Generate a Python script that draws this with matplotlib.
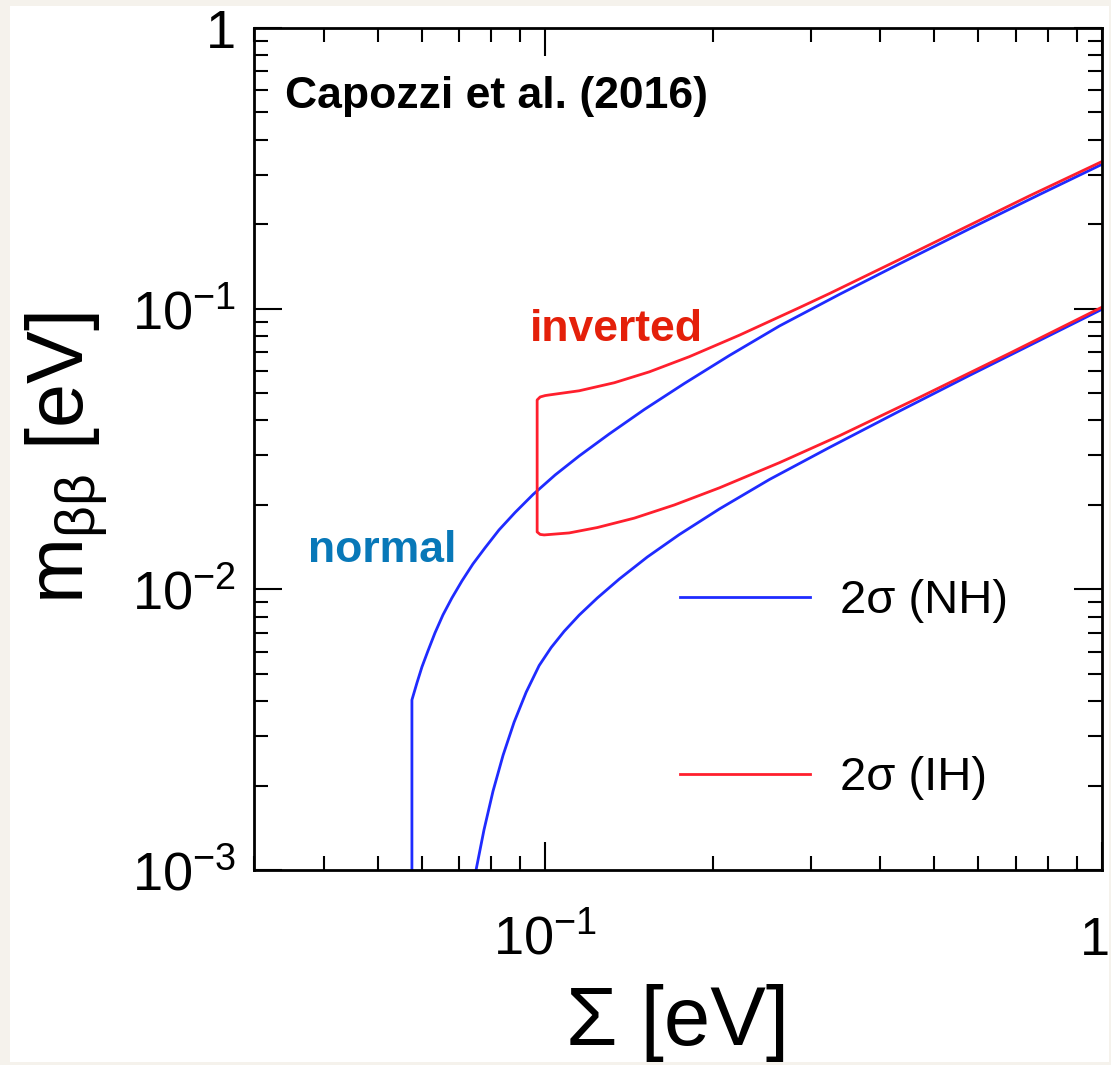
"""
m_bb vs sum of neutrino masses, 2 sigma bands for normal / inverted ordering
(re-drawn after Capozzi et al. 2016). Values read off the published figure.
"""

import matplotlib
matplotlib.use("Agg")
import matplotlib.pyplot as plt
import numpy as np
from matplotlib.patches import Rectangle
from matplotlib.ticker import FixedLocator, FuncFormatter, LogLocator, NullFormatter
from matplotlib.transforms import ScaledTranslation

# Sigma [eV] / m_bb [eV]
nh_upper_sum = [0.05764, 0.05764, 0.05885, 0.06008, 0.06159, 0.06340, 0.06553, 0.06801,
                0.07089, 0.07419, 0.07797, 0.08263, 0.08831, 0.09515, 0.10423, 0.11512,
                0.13035, 0.15072, 0.17783, 0.21424, 0.26358, 0.33799, 0.43334, 0.57885,
                0.77353, 1.0]
nh_upper_mbb = [0.0010, 0.004036, 0.004641, 0.005291, 0.006034, 0.006992, 0.008106, 0.009319,
                0.010715, 0.012318, 0.014048, 0.016280, 0.018787, 0.021785, 0.025563, 0.029872,
                0.035783, 0.043742, 0.054139, 0.068109, 0.086791, 0.11255, 0.14465, 0.19275,
                0.25546, 0.32680]

nh_lower_sum = [0.07514, 0.07765, 0.08060, 0.08403, 0.08794, 0.09244, 0.09755, 0.10252,
                0.10818, 0.11512, 0.12407, 0.13586, 0.15259, 0.17418, 0.20555, 0.25290,
                0.32426, 0.43334, 0.57885, 0.77353, 1.0]
nh_lower_mbb = [0.0010, 0.0013895, 0.0019088, 0.0025645, 0.0033614, 0.0042990, 0.0053522,
                0.0062050, 0.0070875, 0.0080960, 0.0093151, 0.010880, 0.013041, 0.015677,
                0.019336, 0.024636, 0.032052, 0.043207, 0.057906, 0.077162, 0.099508]

ih_upper_sum = [0.09674, 0.09795, 0.1000, 0.10167, 0.11512, 0.13310, 0.15383, 0.18155,
                0.22333, 0.28627, 0.32426, 0.43334, 0.55537, 0.74217, 1.0]
ih_upper_mbb = [0.047284, 0.048462, 0.049022, 0.049263, 0.050989, 0.054463, 0.059545, 0.067453,
                0.080466, 0.10090, 0.11329, 0.14984, 0.19071, 0.25275, 0.33439]

ih_lower_sum = [0.09674, 0.09795, 0.09959, 0.11044, 0.12407, 0.14460, 0.17060, 0.20555,
                0.26358, 0.33799, 0.47062, 0.68317, 1.0]
ih_lower_mbb = [0.016015, 0.015690, 0.015626, 0.015884, 0.016603, 0.017937, 0.019981, 0.022993,
                0.028278, 0.035285, 0.048342, 0.069418, 0.10124]

BLUE = "#1f2bff"
RED = "#ff1f2d"

plt.rcParams["font.family"] = ["Liberation Sans", "DejaVu Sans"]
plt.rcParams["mathtext.fontset"] = "custom"
plt.rcParams["mathtext.rm"] = "Liberation Sans"
plt.rcParams["mathtext.it"] = "Liberation Sans:italic"
plt.rcParams["mathtext.bf"] = "Liberation Sans:bold"

W, H = 1111, 1065
fig = plt.figure(figsize=(W / 100, H / 100), dpi=100, facecolor="#f5f2ec")
fig.add_artist(Rectangle((10 / W, 3 / H), 1099 / W, 1056 / H, transform=fig.transFigure,
                         facecolor="white", edgecolor="none", zorder=0))

ax = fig.add_axes([254 / W, 1 - 870 / H, 848 / W, 842 / H])
ax.set_xscale("log")
ax.set_yscale("log")

ax.plot(nh_upper_sum, nh_upper_mbb, color=BLUE, lw=2, label="2σ (NH)")
ax.plot(nh_lower_sum, nh_lower_mbb, color=BLUE, lw=2)
# inverted band as one path: lower edge back to the corner, then up and along the top
ih_sum = np.concatenate([ih_lower_sum[::-1], ih_upper_sum])
ih_mbb = np.concatenate([ih_lower_mbb[::-1], ih_upper_mbb])
ax.plot(ih_sum, ih_mbb, color=RED, lw=2, label="2σ (IH)")

ax.set_xlim(0.03, 1)
ax.set_ylim(1e-3, 1)


def decade_label(v, _pos):
    if np.isclose(v, 1):
        return "1"
    return rf"$10^{{{int(round(np.log10(v)))}}}$"


ax.xaxis.set_major_locator(FixedLocator([0.1, 1]))
ax.yaxis.set_major_locator(LogLocator(base=10, numticks=10))
for axis in (ax.xaxis, ax.yaxis):
    axis.set_minor_locator(LogLocator(base=10, subs=np.arange(2, 10), numticks=40))
    axis.set_major_formatter(FuncFormatter(decade_label))
    axis.set_minor_formatter(NullFormatter())

ax.tick_params(which="both", direction="in", top=True, right=True, width=1.5, labelsize=39)
ax.tick_params(which="major", length=20)
ax.tick_params(which="minor", length=10)
ax.tick_params(axis="y", pad=13)
ax.tick_params(axis="x", pad=61)
for lab in ax.get_xticklabels():
    lab.set_verticalalignment("baseline")
# the "1" at the right end would run off the page; pin its right edge instead
last = ax.xaxis.get_major_ticks()[-1].label1
last.set_horizontalalignment("right")
last.set_transform(last.get_transform() + ScaledTranslation(0.08, 0, fig.dpi_scale_trans))
for sp in ax.spines.values():
    sp.set_linewidth(2)

ax.set_xlabel("Σ [eV]", fontsize=60, va="baseline")
ax.xaxis.set_label_coords(0.5, -0.208)
ax.set_ylabel(r"m$_{\mathrm{\beta\beta}}$ [eV]", fontsize=57)
ax.yaxis.set_label_coords(-0.170, 0.489)

ax.text(0.0366, 0.905, "Capozzi et al. (2016)", transform=ax.transAxes,
        fontsize=32, fontweight="bold", va="baseline")
ax.text(0.3255, 0.628, "inverted", transform=ax.transAxes, color="#e4200a",
        fontsize=32, fontweight="bold", va="baseline")
ax.text(0.0637, 0.3658, "normal", transform=ax.transAxes, color="#0878b8",
        fontsize=32, fontweight="bold", va="baseline")

ax.legend(loc="upper left", bbox_to_anchor=(0.4776, 0.3705), fontsize=34,
          frameon=True, fancybox=False, facecolor="white", edgecolor="none",
          framealpha=1, handlelength=2.75, handletextpad=0.64, labelspacing=2.82,
          borderpad=0.45, borderaxespad=0)

fig.savefig("out.png", dpi=100, facecolor=fig.get_facecolor())
